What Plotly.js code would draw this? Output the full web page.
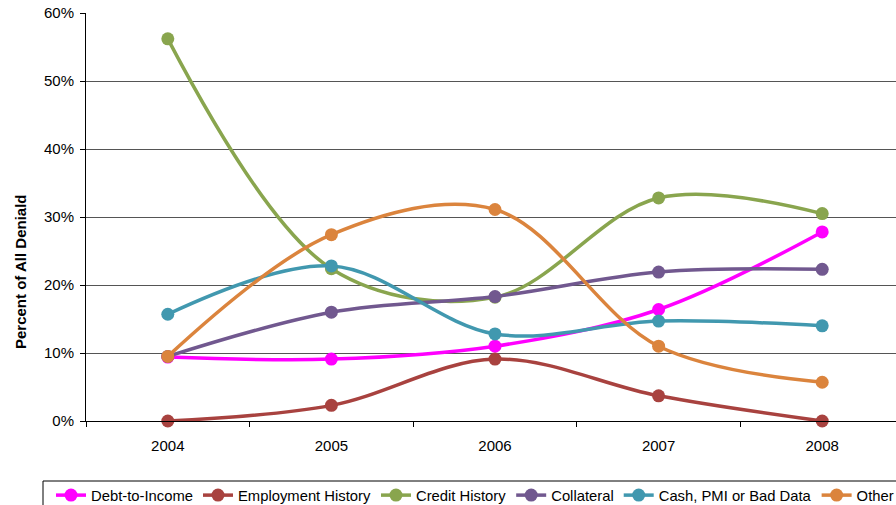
<!DOCTYPE html>
<html>
<head>
<meta charset="utf-8">
<script src="https://cdn.plot.ly/plotly-3.0.1.min.js"></script>
<style>
  html, body { margin: 0; padding: 0; overflow: hidden; background: #fff; }
  #chart { width: 960px; height: 515px; }
</style>
</head>
<body>
<div id="chart"></div>
<script>
// Share of all loan denials by reason, 2004-2008 (percent)
const years = ['2004', '2005', '2006', '2007', '2008'];

const debtToIncome      = [9.4, 9.1, 11.0, 16.4, 27.8];
const employmentHistory = [0.0, 2.3, 9.1, 3.7, 0.0];
const creditHistory     = [56.2, 22.4, 18.2, 32.8, 30.5];
const collateral        = [9.5, 16.0, 18.3, 21.9, 22.3];
const cashPmiBadData    = [15.7, 22.8, 12.8, 14.7, 14.0];
const other             = [9.5, 27.4, 31.1, 11.0, 5.7];

const seriesNames  = ['Debt-to-Income', 'Employment History', 'Credit History', 'Collateral', 'Cash, PMI or Bad Data', 'Other'];
const seriesValues = [debtToIncome, employmentHistory, creditHistory, collateral, cashPmiBadData, other];
const seriesColors = ['#FF00FF', '#A8423F', '#89A54E', '#71588F', '#4198AF', '#DB843D'];

const yTickVals = [0, 10, 20, 30, 40, 50, 60];
const yTickText = ['0%', '10%', '20%', '30%', '40%', '50%', '60%'];

const traces = seriesNames.map((name, i) => ({
  type: 'scatter',
  mode: 'lines+markers',
  name: name,
  x: years,
  y: seriesValues[i],
  line: { color: seriesColors[i], width: 3.5, shape: 'spline', smoothing: 1 },
  marker: { color: seriesColors[i], size: 13 },
  cliponaxis: false
}));

const font = { family: 'Liberation Sans, Arial, sans-serif', size: 15, color: '#000' };

// plot area spans 818 x 408 px; helpers convert page pixels to paper units
const px = v => (v - 86) / 818;
const py = v => (421 - v) / 408;

const layout = {
  width: 960,
  height: 515,
  margin: { l: 86, r: 56, t: 13, b: 94, autoexpand: false },
  paper_bgcolor: '#fff',
  plot_bgcolor: '#fff',
  font: font,
  showlegend: true,
  legend: {
    orientation: 'h',
    x: px(51), xanchor: 'left',
    y: py(479), yanchor: 'top',
    borderwidth: 0,
    bgcolor: 'rgba(0,0,0,0)',
    font: { family: 'Liberation Sans, Arial, sans-serif', size: 14.8, color: '#000' },
    traceorder: 'normal'
  },
  // legend frame
  shapes: [{
    type: 'rect', xref: 'paper', yref: 'paper',
    x0: px(43), x1: px(958), y0: py(513), y1: py(481),
    line: { color: '#000', width: 1 }, fillcolor: 'rgba(0,0,0,0)',
    layer: 'below'
  }],
  xaxis: {
    type: 'category',
    range: [-0.5, 4.5],
    tickson: 'boundaries',
    ticks: 'outside', ticklen: 5, tickcolor: '#000',
    ticklabelstandoff: 11,
    showline: true, linecolor: '#000', linewidth: 1,
    showgrid: false, zeroline: false,
    tickfont: font
  },
  yaxis: {
    range: [0, 60],
    tickvals: yTickVals, ticktext: yTickText,
    ticks: 'outside', ticklen: 5, tickcolor: '#000',
    ticklabelstandoff: 3,
    showline: true, linecolor: '#000', linewidth: 1,
    showgrid: true, gridcolor: '#555', gridwidth: 1,
    zeroline: false,
    tickfont: font
  },
  annotations: [{
    text: '<b>Percent of All Deniald</b>',
    textangle: -90,
    xref: 'paper', yref: 'paper',
    x: px(20), y: py(272),
    xanchor: 'center', yanchor: 'middle',
    showarrow: false,
    font: { family: 'Liberation Sans, Arial, sans-serif', size: 15, color: '#000' }
  }]
};

Plotly.newPlot('chart', traces, layout, { displayModeBar: false, staticPlot: true });
</script>
</body>
</html>
